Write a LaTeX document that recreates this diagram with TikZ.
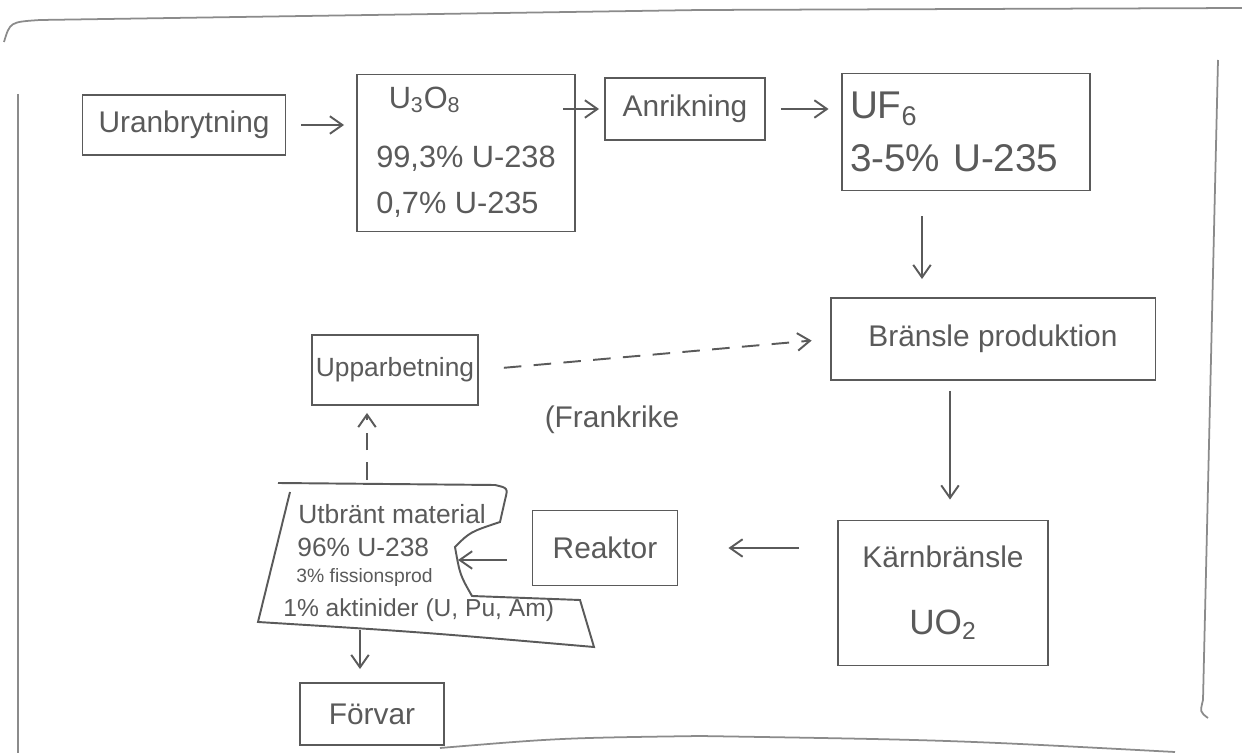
\documentclass[tikz,border=0pt]{standalone}
\usepackage{fontspec}
\setmainfont{Liberation Sans}
\usetikzlibrary{arrows.meta}
\definecolor{pencil}{HTML}{5A5A5A}
\tikzset{
  box/.style={draw=pencil, line width=1.1pt, text=pencil, inner sep=2pt},
  lbl/.style={text=pencil, inner sep=0pt},
  arr/.style={draw=pencil, line width=1.1pt, -{Straight Barb[length=2.5mm,width=3.5mm]}},
  darr/.style={arr, dash pattern=on 10pt off 7pt},
  frame/.style={draw=pencil!70, line width=1pt},
  big/.style={font=\fontsize{17}{24}\selectfont},
  mid/.style={font=\fontsize{15}{19}\selectfont}
}
\begin{document}
\begin{tikzpicture}[x=0.02cm, y=-0.02cm]
\useasboundingbox (0,0) rectangle (1242,753);
% frame
\draw[frame] (4,42) .. controls (10,22) .. (40,20) -- (700,10) -- (1242,8);
\draw[frame] (18,94) -- (18,753);
\draw[frame] (1218,60) -- (1203,700) .. controls (1200,712) .. (1208,718);
\draw[frame] (440,748) .. controls (560,738) .. (700,736) .. controls (950,740) .. (1175,752);
% nodes
\node[box, big, minimum width=4.06cm, minimum height=1.2cm] (ura) at (184,125) {Uranbrytning};
\node[box, font=\fontsize{17.5}{22}\selectfont, minimum width=4.36cm, minimum height=3.14cm] (u3o8) at (466,153)
  {\begin{tabular}{@{}l@{}}\hspace{0.25cm}U\textsubscript{3}O\textsubscript{8}\\[12pt] 99,3\% U-238\\[4pt] 0,7\% U-235\end{tabular}};
\node[box, big, minimum width=3.2cm, minimum height=1.24cm] (anr) at (685,109) {Anrikning};
\node[box, font=\fontsize{22}{26}\selectfont, minimum width=4.96cm, minimum height=2.34cm,
      inner xsep=0.16cm, text width=4.64cm, align=left] (uf6) at (966,132)
  {UF\textsubscript{6}\\[4pt] 3-5\% U-235};
\node[box, big, minimum width=6.5cm, minimum height=1.64cm] (bran) at (993,339) {Bränsle produktion};
\node[box, big, minimum width=4.2cm, minimum height=2.9cm, align=center] (karn) at (943,593)
  {Kärnbränsle\\[14pt] {\fontsize{20}{24}\selectfont UO\textsubscript{2}}};
\node[box, big, minimum width=2.9cm, minimum height=1.5cm] (reak) at (605,548) {Reaktor};
\node[box, font=\fontsize{15}{19}\selectfont, inner sep=0pt, minimum width=3.32cm, minimum height=1.4cm] (upp) at (395,370) {Upparbetning};
\node[box, big, minimum width=2.88cm, minimum height=1.24cm] (forv) at (372,714) {Förvar};
\node[lbl, big] (frank) at (612,420) {(Frankrike};
% spent-material text lines
\node[lbl, mid, anchor=west] (utba) at (298,514) {Utbränt material};
\node[lbl, mid, anchor=west] (utbb) at (297,547) {96\% U-238};
\node[lbl, font=\fontsize{11}{14}\selectfont, anchor=west] (utbc) at (296,578) {3\% fissionsprod};
\node[lbl, font=\fontsize{14}{18}\selectfont, anchor=west] (utbd) at (283,610) {1\% aktinider (U, Pu, Am)};
% outline of the spent-material box
\draw[draw=pencil, line width=1.1pt]
  (278,483) -- (495,485) .. controls (508,488) .. (505,500) -- (500,522)
  .. controls (470,532) .. (455,547) .. controls (460,575) .. (472,596)
  -- (580,600) -- (594,647) .. controls (420,632) .. (258,622) -- (290,492);
\coordinate (notch) at (458,560);
\coordinate (utbbot) at (360,630);
\coordinate (utbtop) at (367,480);
% connectors
\draw[arr, shorten <=0.3cm, shorten >=0.24cm] (ura.east) -- (ura.east -| u3o8.west);
\draw[arr, shorten <=-0.25cm, shorten >=0.1cm] (anr.west -| u3o8.east) -- (anr.west);
\draw[arr, shorten <=0.3cm, shorten >=0.25cm] (anr.east) -- (anr.east -| uf6.west);
\draw[arr, shorten <=0.5cm, shorten >=0.36cm] ([xshift=-0.88cm]uf6.south) -- ([xshift=-0.88cm]uf6.south |- bran.north);
\draw[arr, shorten <=0.2cm, shorten >=0.4cm] ([xshift=-0.86cm]bran.south) -- ([xshift=-0.86cm]bran.south |- karn.north);
\draw[arr, shorten <=0.76cm, shorten >=1.0cm] (karn.west |- reak.east) -- (reak.east);
\draw[arr, shorten <=0.5cm] ([yshift=-0.24cm]reak.west) -- ([yshift=-0.24cm]reak.west -| notch);
\draw[arr, shorten >=0.26cm] (utbbot) -- (utbbot |- forv.north);
\draw[darr, shorten >=0.14cm] (utbtop) -- (utbtop |- upp.south);
\draw[darr, shorten <=0.5cm, shorten >=0.36cm] (upp.east) -- (bran.west);
\end{tikzpicture}
\end{document}
